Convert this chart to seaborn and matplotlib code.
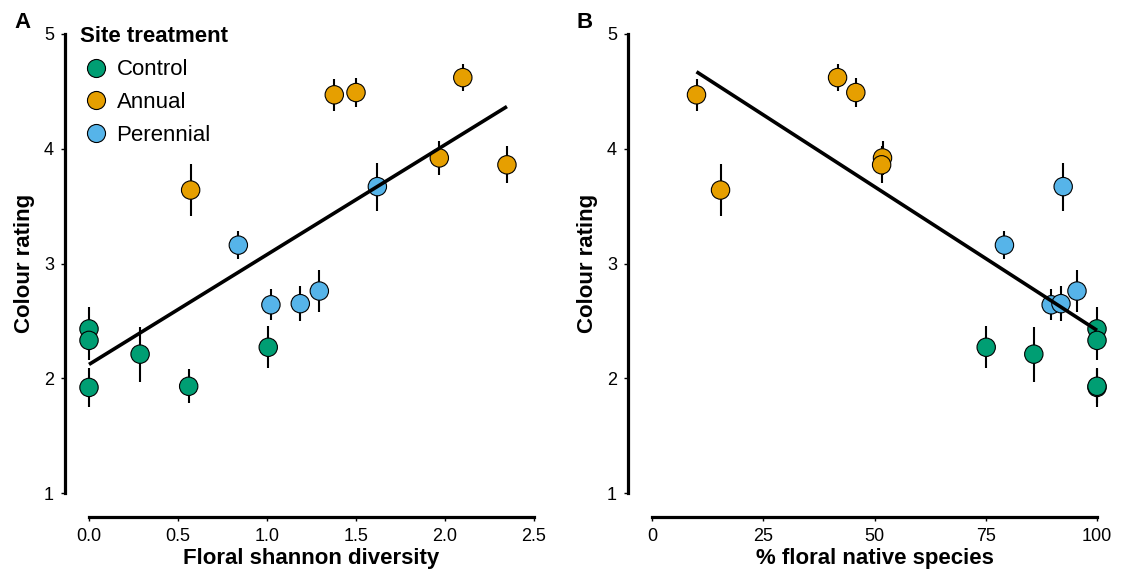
import numpy as np
import pandas as pd
import matplotlib
matplotlib.use("Agg")
import matplotlib.pyplot as plt
import seaborn as sns
from matplotlib.lines import Line2D

# ---- data (site means +/- SE) ----
treatment = ["Control"] * 6 + ["Annual"] * 6 + ["Perennial"] * 5
shannon = [0.0, 0.0, 0.0, 0.287, 0.56, 1.007,
           0.571, 1.378, 1.50, 2.10, 1.968, 2.348,
           0.839, 1.62, 1.022, 1.187, 1.294]
native_pct = [100, 100, 100, 85.8, 100, 75.1,
              15.4, 10.0, 45.8, 41.7, 51.8, 51.6,
              79.2, 92.4, 89.7, 91.9, 95.5]
colour_rating = [2.43, 2.33, 1.92, 2.21, 1.93, 2.27,
                 3.64, 4.47, 4.49, 4.62, 3.92, 3.86,
                 3.16, 3.67, 2.64, 2.65, 2.76]
colour_se = [0.19, 0.17, 0.17, 0.24, 0.15, 0.185,
             0.23, 0.14, 0.13, 0.12, 0.15, 0.16,
             0.12, 0.21, 0.135, 0.15, 0.18]
levels = ["Control", "Annual", "Perennial"]
palette = {"Control": "#009E73", "Annual": "#E69F00", "Perennial": "#56B4E9"}

df = pd.DataFrame({"treatment": treatment, "shannon": shannon,
                   "native": native_pct, "colour": colour_rating, "se": colour_se})

sns.set_style("ticks")
plt.rcParams["font.family"] = ["Liberation Sans", "DejaVu Sans"]
plt.rcParams.update({"text.color": "black", "axes.labelcolor": "black",
                     "xtick.color": "black", "ytick.color": "black"})

fig = plt.figure(figsize=(11.23, 5.74), dpi=100)
axA = fig.add_axes([89 / 1123, 1 - 493 / 574, 445 / 1123, 459 / 574])
axB = fig.add_axes([652 / 1123, 1 - 493 / 574, 445 / 1123, 459 / 574])

panels = [(axA, "shannon", "Floral shannon diversity", (0, 2.5), [0.0, 0.5, 1.0, 1.5, 2.0, 2.5],
           ["0.0", "0.5", "1.0", "1.5", "2.0", "2.5"]),
          (axB, "native", "% floral native species", (0, 100), [0, 25, 50, 75, 100],
           ["0", "25", "50", "75", "100"])]

for ax, xcol, xlabel, xlim, xticks, xticklabels in panels:
    ax.errorbar(df[xcol], df["colour"], yerr=df["se"], fmt="none", ecolor="black",
                elinewidth=1.5, capsize=0, zorder=2, clip_on=False)
    sns.scatterplot(data=df, x=xcol, y="colour", hue="treatment", hue_order=levels,
                    palette=palette, s=175, edgecolor="black", linewidth=0.8,
                    ax=ax, zorder=3, legend=False)
    sns.regplot(data=df, x=xcol, y="colour", scatter=False, ci=None, color="black",
                line_kws=dict(lw=2.6, zorder=4, solid_capstyle="butt"), ax=ax)
    for c in ax.collections:
        c.set_clip_on(False)
    for l in ax.lines:
        l.set_clip_on(False)
    ax.set_xlim(*xlim)
    ax.set_ylim(1, 5)
    ax.set_xticks(xticks)
    ax.set_xticklabels(xticklabels)
    ax.set_yticks([1, 2, 3, 4, 5])
    ax.set_yticklabels(["1", "2", "3", "4", "5"])
    ax.tick_params(labelsize=13, length=3, width=1, color="black", labelcolor="black")
    ax.tick_params(axis="y", pad=5)
    ax.tick_params(axis="x", pad=5)
    ax.set_xlabel(xlabel, fontsize=16, fontweight="bold")
    ax.set_ylabel("Colour rating", fontsize=16, fontweight="bold")
    ax.xaxis.set_label_coords(0.5, -(548 - 493) / 459)
    ax.yaxis.set_label_coords(-(89 - 35) / 445, 0.5)
    sns.despine(ax=ax, offset=17.3)
    for sp in ["left", "bottom"]:
        ax.spines[sp].set_linewidth(2.3)
        ax.spines[sp].set_color("black")
    ax.set_facecolor("none")

handles = [Line2D([], [], marker="o", linestyle="none", markersize=13,
                  markerfacecolor=palette[t], markeredgecolor="black", markeredgewidth=0.8)
           for t in levels]
leg = axA.legend(handles, levels, title="Site treatment", loc="upper left",
                 bbox_to_anchor=(80.5 / 1123, 1 - 26.5 / 574), bbox_transform=fig.transFigure,
                 frameon=False, fontsize=16, alignment="left",
                 title_fontproperties={"weight": "bold", "size": 16},
                 handletextpad=0.24, labelspacing=0.53, handlelength=1.38,
                 borderpad=0, borderaxespad=0)

fig.text(14 / 1123, 1 - 28 / 574, "A", fontsize=16, fontweight="bold", va="baseline")
fig.text(577 / 1123, 1 - 28 / 574, "B", fontsize=16, fontweight="bold", va="baseline")

fig.savefig("out.png", dpi=100)
